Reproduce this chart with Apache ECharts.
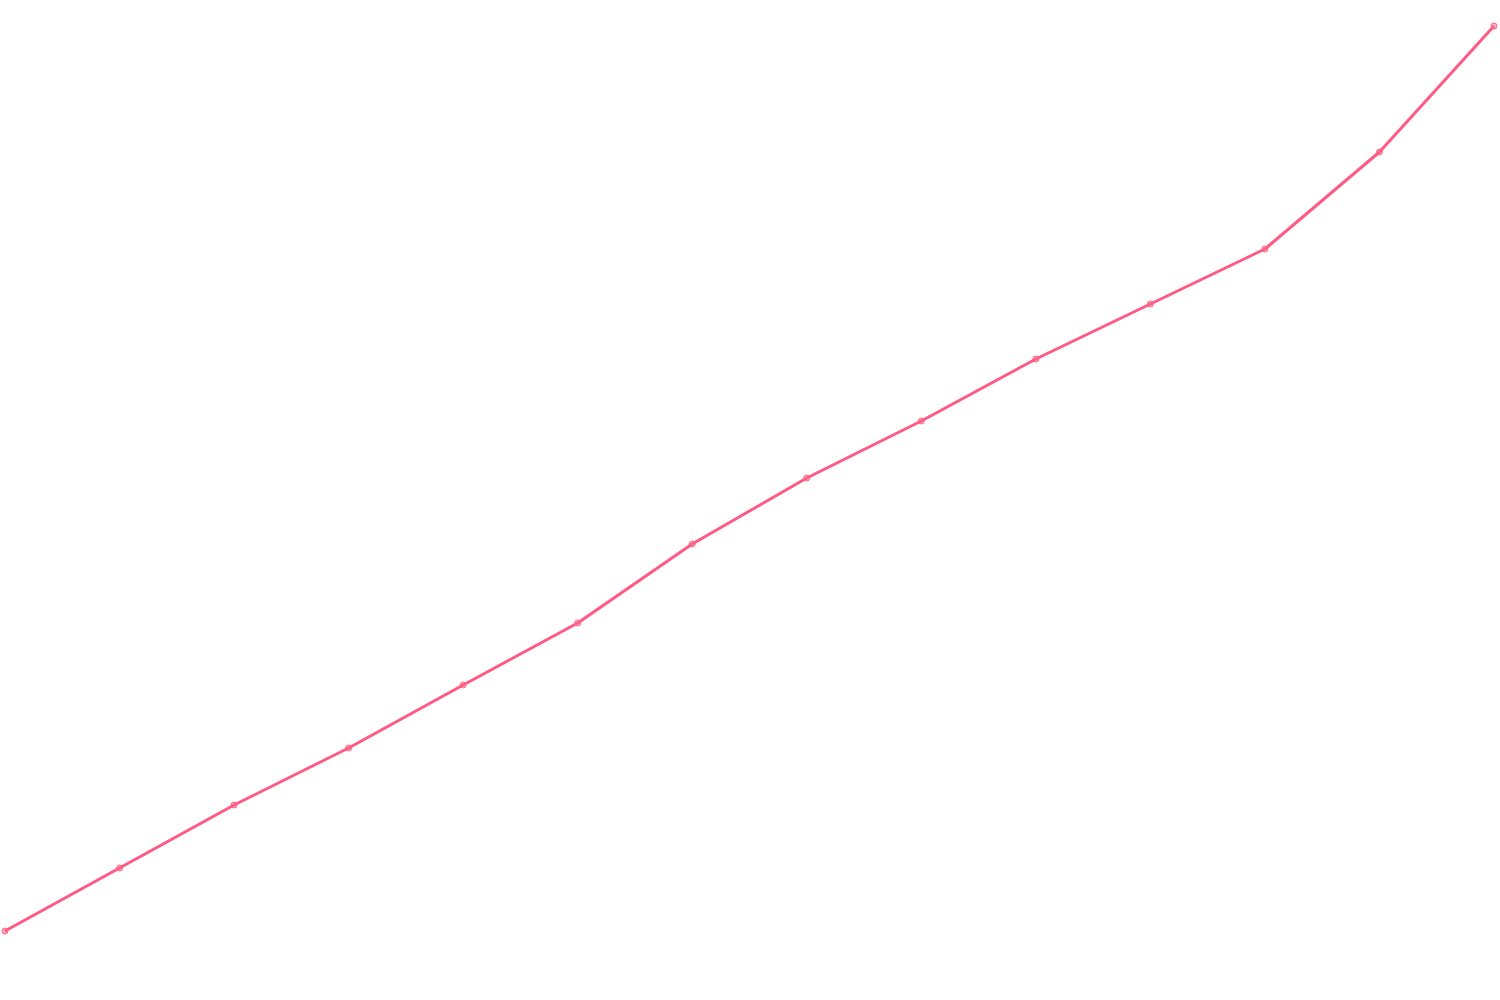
<!DOCTYPE html>
<html>
<head>
<meta charset="utf-8">
<script src="https://cdn.jsdelivr.net/npm/echarts@6/dist/echarts.min.js"></script>
<style>
  html, body { margin: 0; padding: 0; background: #fff; }
  #chart { width: 1500px; height: 1000px; }
</style>
</head>
<body>
<div id="chart"></div>
<script>
// 横轴类别（图中未显示标签）
const labels = ['1', '2', '3', '4', '5', '6', '7', '8', '9', '10', '11', '12', '13', '14'];
// 读图估计的数值
const values = [0, 63, 126, 183, 246, 308, 387, 453, 510, 572, 627, 682, 779, 905];
const yMin = 0;
const yMax = 905;

let chart = echarts.init(document.getElementById('chart'));

let option = {
    animation: false,
    grid: {
        left: 5,
        right: 6,
        top: 26,
        bottom: 69
    },
    xAxis: {
        type: 'category',
        data: labels,
        boundaryGap: false,
        show: false
    },
    yAxis: {
        type: 'value',
        min: yMin,
        max: yMax,
        show: false
    },
    series: [{
        type: 'line',
        data: values,
        symbol: 'circle',
        symbolSize: 6,
        showAllSymbol: true,
        lineStyle: {
            color: '#ff5a84',
            width: 3
        },
        itemStyle: {
            color: 'rgba(255, 99, 132, 0.5)',
            borderColor: '#ff6384',
            borderWidth: 1
        }
    }]
};

chart.setOption(option);
</script>
</body>
</html>
